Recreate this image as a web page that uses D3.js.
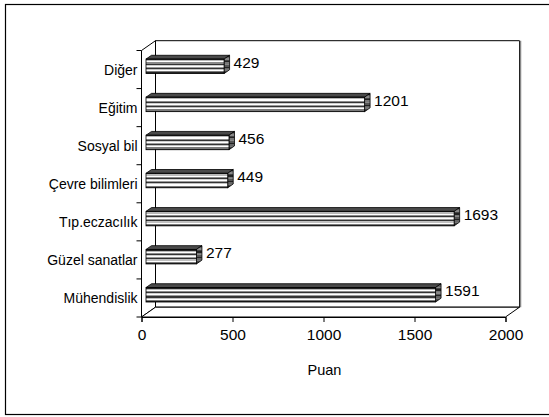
<!DOCTYPE html>
<html><head><meta charset="utf-8">
<script src="https://cdn.jsdelivr.net/npm/d3@7"></script>
<style>html,body{margin:0;padding:0;background:#fff;}svg{display:block;font-family:"Liberation Sans",Arial,sans-serif;}</style>
</head><body>
<svg id="c" width="549" height="417"></svg>
<script>
const categories = ["Diğer","Eğitim","Sosyal bil","Çevre bilimleri","Tıp.eczacılık","Güzel sanatlar","Mühendislik"];
const values = [429,1201,456,449,1693,277,1591];
const xTicks = [0,500,1000,1500,2000];
const xTitle = "Puan";

const svg = d3.select("#c");
svg.append("rect").attr("x",5.5).attr("y",4.5).attr("width",570).attr("height",410)
  .attr("fill","#fff").attr("stroke","#000").attr("stroke-width",1.2);

const x = d3.scaleLinear().domain([0,2000]).range([141.5,505.5]);
const y = d3.scaleBand().domain(categories).range([50.5,317]).paddingInner(0).paddingOuter(0);
const wall = {dx:14, dy:-9.8};
const barShift = {dx:4.5, dy:-3.2};
const barDepth = {dx:5.5, dy:-3.8};
const barH = 14.5;

const defs = svg.append("defs");
function stripeGrad(id, cols){
  const g = defs.append("linearGradient").attr("id",id).attr("x1",0).attr("y1",0).attr("x2",0).attr("y2",1);
  const n = cols.length;
  cols.forEach((c,i)=>{
    g.append("stop").attr("offset",i/n).attr("stop-color",c);
    g.append("stop").attr("offset",(i+1)/n).attr("stop-color",c);
  });
}
stripeGrad("front",["#222","#b8b8b8","#ffffff","#8a8a8a","#333","#d0d0d0","#ffffff","#9a9a9a","#333","#c0c0c0","#ffffff","#7a7a7a","#222"]);
stripeGrad("side",["#222","#666","#888","#444","#222","#777","#888","#555","#222","#666","#777","#444","#222"]);

const x0 = x(0), x1 = x(2000), yt = y.range()[0], yb = y.range()[1];
// back wall
svg.append("path").attr("fill","#fff").attr("stroke","#000").attr("stroke-width",1)
  .attr("d",`M${x0+wall.dx},${yt+wall.dy}H${x1+wall.dx}V${yb+wall.dy}H${x0+wall.dx}Z`);
svg.append("line").attr("x1",x1+wall.dx+1).attr("x2",x1+wall.dx+1).attr("y1",yt+wall.dy).attr("y2",yb+wall.dy)
  .attr("stroke","#888").attr("stroke-width",1.5);
// side wall
svg.append("path").attr("fill","#fff").attr("stroke","#000").attr("stroke-width",1)
  .attr("d",`M${x0},${yt}L${x0+wall.dx},${yt+wall.dy}V${yb+wall.dy}L${x0},${yb}Z`);
// floor
svg.append("path").attr("fill","#fff").attr("stroke","#000").attr("stroke-width",1)
  .attr("d",`M${x0},${yb}L${x0+wall.dx},${yb+wall.dy}H${x1+wall.dx}L${x1},${yb}Z`);

// y ticks at band boundaries
const bounds = categories.map(c=>y(c)).concat([yb]);
svg.selectAll(".yt").data(bounds).join("line")
  .attr("x1",x0-5).attr("x2",x0).attr("y1",d=>d).attr("y2",d=>d).attr("stroke","#000");
svg.selectAll(".yl").data(categories).join("text")
  .attr("x",x0-4).attr("y",d=>y(d)+y.bandwidth()/2+5).attr("text-anchor","end")
  .attr("font-size",14).attr("fill","#000").text(d=>d);

// x axis
const xa = svg.append("g").attr("transform",`translate(0,${yb})`)
  .call(d3.axisBottom(x).tickValues(xTicks).tickSize(5).tickPadding(7).tickFormat(d3.format("d")));
xa.select(".domain").attr("stroke","#000");
xa.selectAll("text").attr("font-size",15.5).attr("fill","#000").attr("font-family","Liberation Sans, Arial, sans-serif");
svg.append("text").attr("x",(x0+x1)/2+1).attr("y",375).attr("text-anchor","middle")
  .attr("font-size",14.5).attr("fill","#000").text(xTitle);

// bars
const data = categories.map((c,i)=>({c, v:values[i]}));
const g = svg.append("g");
data.forEach(d=>{
  const cy = y(d.c)+y.bandwidth()/2 + barShift.dy;
  const left = x(0)+barShift.dx, right = x(d.v)+barShift.dx;
  const top = cy-barH/2, bot = cy+barH/2;
  // top face
  g.append("path").attr("fill","#4a4a4a").attr("stroke","#000").attr("stroke-width",0.8)
    .attr("d",`M${left},${top}L${left+barDepth.dx},${top+barDepth.dy}H${right+barDepth.dx}L${right},${top}Z`);
  // side face
  g.append("path").attr("fill","url(#side)").attr("stroke","#000").attr("stroke-width",0.8)
    .attr("d",`M${right},${top}L${right+barDepth.dx},${top+barDepth.dy}V${bot+barDepth.dy}L${right},${bot}Z`);
  // front face
  g.append("rect").attr("x",left).attr("y",top).attr("width",right-left).attr("height",barH)
    .attr("fill","url(#front)").attr("stroke","#000").attr("stroke-width",0.8);
  // label
  g.append("text").attr("x",right+barDepth.dx+4).attr("y",cy-4+5.5)
    .attr("font-size",15.5).attr("fill","#000").text(d.v);
});
</script>
</body></html>
